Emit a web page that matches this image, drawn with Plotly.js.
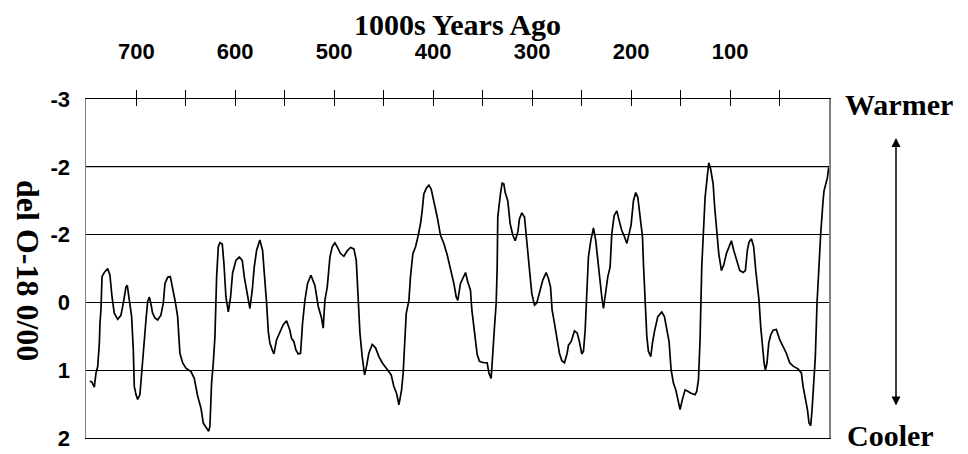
<!DOCTYPE html>
<html>
<head>
<meta charset="utf-8">
<script src="https://cdn.plot.ly/plotly-3.0.1.min.js"></script>
<style>html,body{margin:0;padding:0;background:#fff}#chart{width:968px;height:454px}</style>
</head>
<body>
<div id="chart"></div>
<script>
// Thousands of years ago
const yearsAgo = [
 746.8,744.7,742.4,740.7,739.0,737.3,736.7,735.7,734.6,732.3,728.9,726.6,724.5,722.2,718.8,715.5,713.1,710.4,709.1,707.0,704.7,703.0,702.0,700.3,698.6,696.3,694.2,691.9,690.2,688.5,686.8,685.2,683.5,681.1,678.4,675.1,672.7,671.0,668.3,665.6,663.3,660.6,658.2,655.9,653.2,649.8,644.7,641.4,638.0,634.6,632.3,628.9,626.9,
 625.6,623.9,622.2,620.5,618.8,617.1,615.5,613.1,611.4,609.4,607.0,604.7,602.7,599.3,595.9,592.9,590.9,588.5,586.8,585.2,582.8,580.8,578.4,575.1,572.4,570.0,568.3,566.6,565.0,562.6,560.9,558.2,554.9,551.5,548.1,544.8,543.1,540.7,538.7,536.3,534.0,532.0,529.6,526.9,523.5,519.5,516.1,512.8,511.1,509.4,507.0,504.3,502.0,499.3,
 496.9,493.6,490.2,486.8,483.5,480.1,477.7,476.1,474.0,471.7,469.3,467.3,465.0,461.6,458.2,454.8,451.5,446.4,442.4,439.7,437.0,434.6,431.9,430.3,428.9,427.2,424.5,422.9,420.5,417.8,415.5,412.8,411.1,409.4,406.7,404.3,402.0,399.3,395.9,392.6,389.2,385.8,382.5,379.1,376.7,375.1,
 372.4,370.0,367.3,365.0,362.3,360.9,358.9,357.2,355.5,353.2,348.8,345.4,343.7,341.4,339.7,338.0,336.3,335.3,334.7,333.0,332.0,330.3,328.6,327.2,324.6,322.2,319.5,317.1,314.4,312.8,310.4,307.7,306.0,304.3,302.0,300.3,297.6,295.3,292.6,289.2,285.8,283.5,281.4,279.8,277.4,274.7,272.4,270.0,267.3,264.6,263.3,260.6,257.2,254.5,252.2,
 249.8,248.1,246.4,244.7,243.1,240.7,238.0,235.7,233.0,231.3,229.6,227.9,225.6,223.5,221.2,219.5,217.1,214.4,212.1,209.4,206.7,204.3,202.7,200.0,197.6,195.3,193.2,190.9,188.5,187.5,185.8,184.1,182.5,180.1,178.4,176.4,173.0,169.0,166.3,163.9,161.6,159.6,157.2,154.8,152.8,150.5,148.1,145.4,142.7,139.4,135.3,133.6,131.9,130.3,128.6,126.9,125.2,123.5,
 121.5,119.5,117.1,115.5,113.8,111.4,108.7,106.4,103.7,101.3,98.6,96.3,93.6,90.2,86.8,84.5,82.5,80.8,78.4,76.1,74.0,72.4,70.7,69.0,67.3,65.6,64.3,62.6,60.9,58.9,56.5,53.2,49.8,46.4,43.1,39.7,36.3,31.3,27.9,26.2,23.9,21.8,20.2,18.5,17.1,15.5,13.8,12.1,10.4,8.4,6.0,5.0,3.7,1.6,0.3
];
// del O-18 (per mil)
const delO18 = [
 1.16,1.18,1.25,1.04,0.95,0.60,0.31,0.11,-0.38,-0.44,-0.50,-0.40,-0.08,0.16,0.25,0.19,0.01,-0.23,-0.25,0.01,0.21,0.70,1.24,1.36,1.43,1.36,0.94,0.50,0.26,-0.01,-0.08,0.02,0.16,0.23,0.26,0.19,0.01,-0.28,-0.37,-0.38,-0.23,-0.01,0.21,0.75,0.89,0.97,1.02,1.12,1.38,1.56,1.78,1.85,1.90,
 1.83,1.19,0.90,0.50,-0.38,-0.82,-0.88,-0.86,-0.57,-0.08,0.14,-0.08,-0.43,-0.62,-0.67,-0.62,-0.38,-0.18,0.01,0.09,-0.18,-0.52,-0.77,-0.92,-0.77,-0.38,0.01,0.43,0.60,0.70,0.76,0.55,0.43,0.33,0.27,0.41,0.53,0.58,0.70,0.76,0.75,0.31,-0.03,-0.28,-0.40,-0.25,0.06,0.23,0.38,-0.03,-0.23,-0.67,-0.82,-0.88,
 -0.82,-0.72,-0.68,-0.76,-0.81,-0.79,-0.62,-0.08,0.45,0.80,1.07,0.94,0.75,0.62,0.67,0.80,0.89,0.99,1.07,1.24,1.34,1.51,1.29,1.04,0.60,0.16,-0.03,-0.38,-0.72,-0.82,-0.96,-1.16,-1.35,-1.60,-1.69,-1.73,-1.67,-1.50,-1.26,-0.99,-0.87,-0.70,-0.50,-0.28,-0.08,-0.03,
 -0.28,-0.35,-0.44,-0.30,-0.18,0.11,0.36,0.55,0.77,0.87,0.89,0.89,1.04,1.12,0.80,0.36,0.01,-0.52,-1.26,-1.50,-1.60,-1.76,-1.75,-1.62,-1.50,-1.16,-0.99,-0.91,-1.04,-1.23,-1.32,-1.26,-0.97,-0.67,-0.38,-0.13,0.04,0.01,-0.13,-0.33,-0.44,-0.35,-0.23,0.11,0.31,0.55,0.75,0.86,0.89,0.75,0.63,0.58,0.42,0.45,0.58,
 0.76,0.72,0.41,-0.18,-0.67,-0.91,-1.10,-0.91,-0.55,-0.23,-0.08,0.09,-0.18,-0.38,-0.52,-1.01,-1.28,-1.35,-1.21,-1.06,-0.97,-0.87,-0.97,-1.14,-1.50,-1.62,-1.55,-1.26,-0.97,-0.57,-0.03,0.50,0.72,0.80,0.60,0.43,0.21,0.14,0.21,0.41,0.58,0.99,1.19,1.29,1.41,1.58,1.43,1.29,1.31,1.34,1.36,1.31,1.14,0.55,-0.52,-1.01,-1.55,-1.79,
 -2.06,-1.96,-1.75,-1.40,-1.06,-0.72,-0.47,-0.55,-0.72,-0.82,-0.91,-0.77,-0.62,-0.47,-0.44,-0.47,-0.77,-0.89,-0.94,-0.82,-0.47,-0.23,-0.03,0.36,0.65,0.89,1.00,0.89,0.60,0.48,0.41,0.40,0.55,0.65,0.75,0.89,0.94,0.98,1.04,1.24,1.43,1.58,1.78,1.82,1.58,1.19,0.80,0.01,-0.52,-1.01,-1.50,-1.65,-1.72,-1.84,-1.99
];
const xTickVals = [50,100,150,200,250,300,350,400,450,500,550,600,650,700];
const xTickText = ["","100","","200","","300","","400","","500","","600","","700"];
const yTickVals = [-3,-2,-1,0,1,2];
const yTickText = ["-3","-2","-2","0","1","2"];

const sans = "Liberation Sans, Arial, sans-serif";
const serif = "Liberation Serif, Times New Roman, serif";

const traces = [
  {x: yearsAgo, y: delO18, type: 'scatter', mode: 'lines',
   line: {color: '#000', width: 1.7}, hoverinfo: 'skip', xaxis: 'x', yaxis: 'y'},
  {x: [], y: [], type: 'scatter', mode: 'lines', xaxis: 'x2', yaxis: 'y', showlegend: false}
];

const layout = {
  width: 968, height: 454,
  margin: {l: 86, r: 139, t: 99, b: 16},
  paper_bgcolor: '#fff', plot_bgcolor: '#fff',
  showlegend: false,
  title: {text: '<b>1000s Years Ago</b>', font: {family: serif, size: 30, color: '#000'},
          x: 0.5, xref: 'paper', y: 1 - 24/454, yref: 'container', yanchor: 'middle'},
  xaxis: {
    side: 'top', range: [750.8, 0], autorange: false,
    tickmode: 'array', tickvals: xTickVals, ticktext: xTickText,
    ticks: 'outside', ticklen: 8, tickwidth: 1, tickcolor: '#000',
    showgrid: false, zeroline: false,
    showline: true, linecolor: '#000', linewidth: 1, mirror: true,
    tickfont: {family: sans, size: 22, color: '#000', weight: 'bold'},
    ticklabelstandoff: 22
  },
  xaxis2: {
    overlaying: 'x', side: 'top', matches: 'x', range: [750.8, 0], autorange: false,
    tickmode: 'array', tickvals: xTickVals,
    ticks: 'inside', ticklen: 7, tickwidth: 1, tickcolor: '#000',
    showticklabels: false, showgrid: false, zeroline: false, showline: false
  },
  yaxis: {
    range: [2, -3], autorange: false,
    tickmode: 'array', tickvals: yTickVals, ticktext: yTickText,
    ticks: '', showgrid: true, gridcolor: '#000', gridwidth: 1,
    zeroline: false, showline: true, linecolor: '#808080', linewidth: 1.5, mirror: true,
    tickfont: {family: sans, size: 22, color: '#000', weight: 'bold'},
    ticklabelstandoff: 10
  },
  shapes: [
    {type: 'line', xref: 'paper', yref: 'y', x0: 0, x1: 1, y0: -2, y1: -2,
     line: {color: '#808080', width: 1.5}, layer: 'below'}
  ],
  annotations: [
    {text: '<b>del O-18 0/00</b>', xref: 'paper', yref: 'paper', x: (28-86)/743, y: (438-270)/339,
     textangle: 90, showarrow: false, xanchor: 'center', yanchor: 'middle',
     font: {family: serif, size: 32, color: '#000'}},
    {text: '<b>Warmer</b>', xref: 'paper', yref: 'paper', x: (899-86)/743, y: (438-104)/339,
     showarrow: false, xanchor: 'center', yanchor: 'middle',
     font: {family: serif, size: 30, color: '#000'}},
    {text: '<b>Cooler</b>', xref: 'paper', yref: 'paper', x: (890-86)/743, y: (438-435)/339,
     showarrow: false, xanchor: 'center', yanchor: 'middle',
     font: {family: serif, size: 30, color: '#000'}},
    {text: '', xref: 'paper', yref: 'paper', x: (896-86)/743, y: (438-138)/339,
     ax: 0, ay: 269, axref: 'pixel', ayref: 'pixel',
     showarrow: true, arrowside: 'end+start', arrowhead: 2, arrowsize: 1.2, arrowwidth: 1.5, arrowcolor: '#000'}
  ]
};

Plotly.newPlot('chart', traces, layout, {displayModeBar: false, staticPlot: true});
</script>
</body>
</html>
